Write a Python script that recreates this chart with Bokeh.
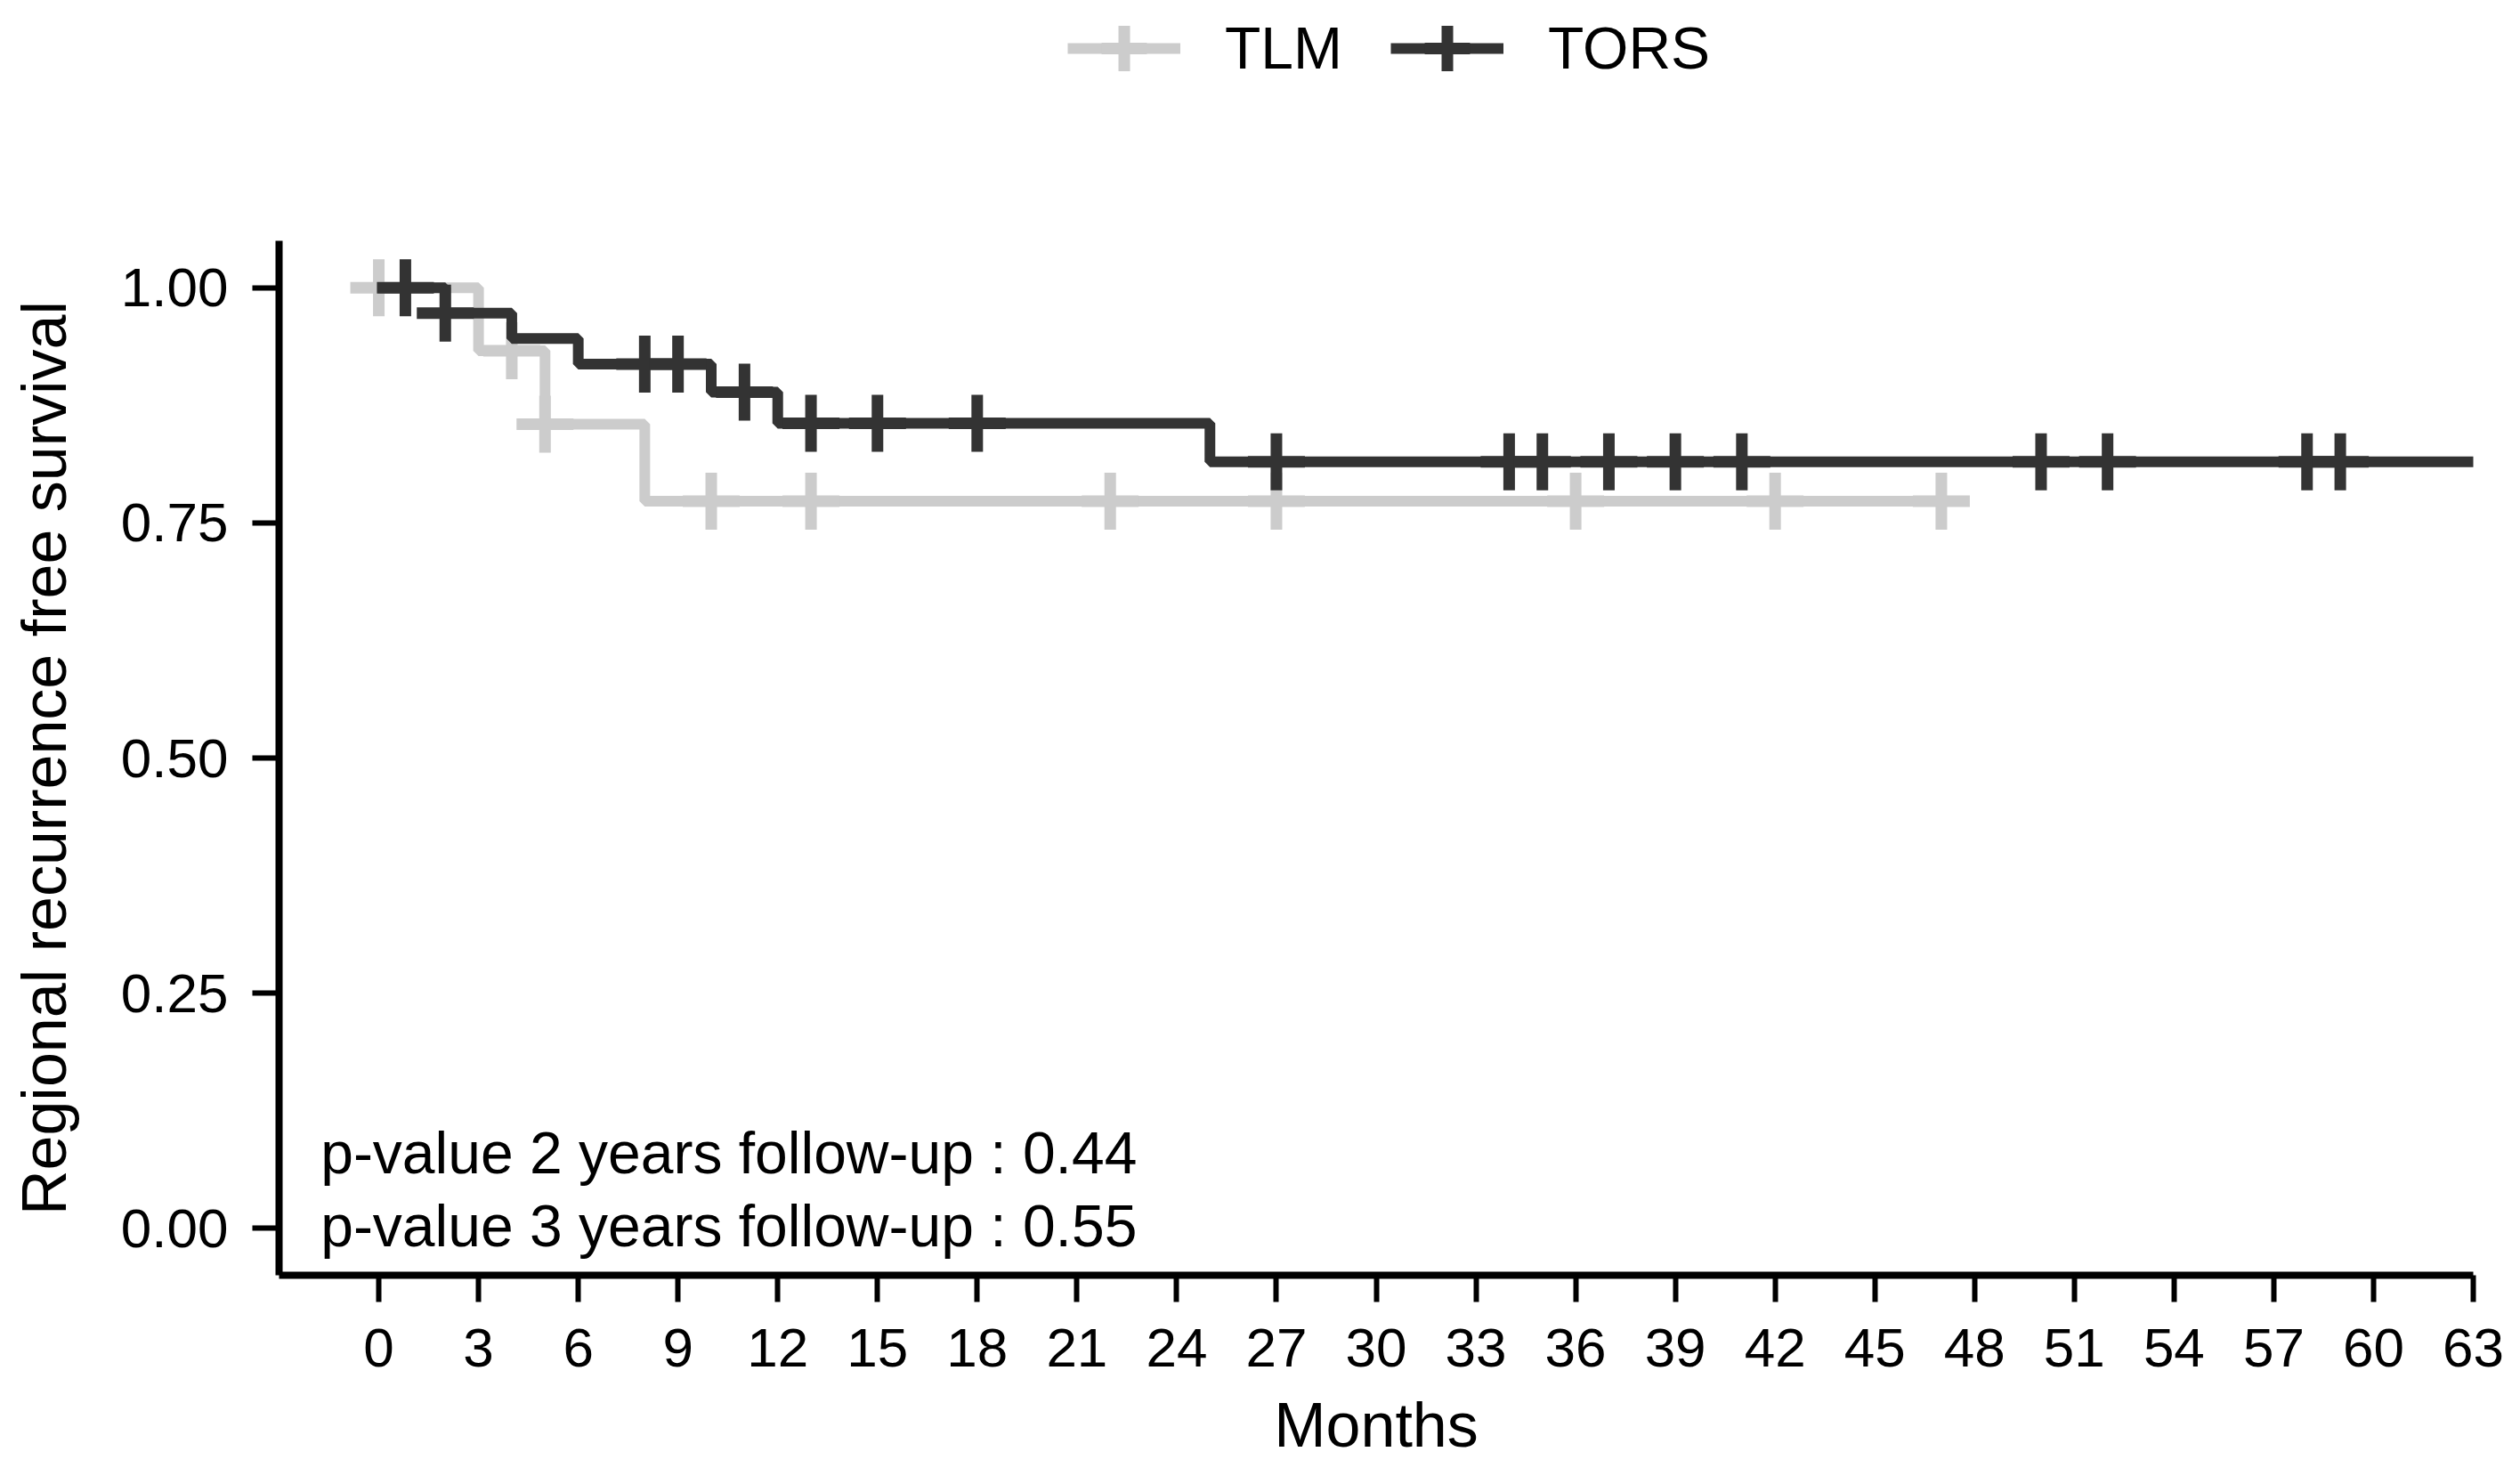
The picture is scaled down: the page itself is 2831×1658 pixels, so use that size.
import numpy as np
from bokeh.plotting import figure
from bokeh.layouts import column
from bokeh.models import FixedTicker, Legend, LegendItem, Label, Range1d, PrintfTickFormatter
from bokeh.embed import file_html
from bokeh.resources import INLINE

# ---------------- data ----------------
group_names = ["TLM", "TORS"]
group_colors = ["#cccccc", "#333333"]

tlm_times = [0, 3, 5, 8, 47]
tlm_surv = [1.0, 0.933, 0.855, 0.773, 0.773]
tlm_censor_times = [0, 4, 5, 10, 13, 22, 27, 36, 42, 47]

tors_times = [0, 2, 4, 6, 10, 12, 25, 64.4]
tors_surv = [1.0, 0.973, 0.946, 0.919, 0.889, 0.856, 0.815, 0.815]
tors_censor_times = [0.8, 2, 8, 9, 11, 13, 15, 18, 27, 34, 35, 37, 39, 41, 50, 52, 58, 59, 64.4]

x_ticks = list(range(0, 64, 3))
y_ticks = [0.0, 0.25, 0.5, 0.75, 1.0]
pvalue_texts = ["p-value 2 years follow-up : 0.44", "p-value 3 years follow-up : 0.55"]
pvalue_y = [0.080, 0.003]
pvalue_x = -1.75

FONT = "Liberation Sans"
LINE_W = 12
MARK_W = 13
MARK_SIZE = 64


def level_at(times, surv, t):
    idx = np.searchsorted(np.asarray(times, dtype=float), t, side="right") - 1
    return [surv[i] for i in idx]


# ---------------- legend strip (top); its y range shows none of the data ----------------
p_leg = figure(width=2815, height=270, output_backend="svg", toolbar_location=None,
               x_range=Range1d(-3, 63), y_range=Range1d(10, 11),
               x_axis_location=None, y_axis_location=None, min_border=0)
p_leg.outline_line_color = None
p_leg.grid.visible = False

# ---------------- main plot ----------------
p = figure(width=2815, height=1372, output_backend="svg", toolbar_location=None,
           x_range=Range1d(-3, 63), y_range=Range1d(-0.05, 1.05),
           min_border_left=313, min_border_right=37, min_border_top=0, min_border_bottom=205)

p.outline_line_color = None
p.grid.visible = False
p.background_fill_color = "white"

series = [
    (tlm_times, tlm_surv, tlm_censor_times),
    (tors_times, tors_surv, tors_censor_times),
]
items = []
for name, color, (t, s, c) in zip(group_names, group_colors, series):
    cs = level_at(t, s, c)
    p.step(t, s, mode="after", line_color=color, line_width=LINE_W)
    p.scatter(c, cs, marker="cross", size=MARK_SIZE, line_color=color, line_width=MARK_W)
    # legend keys: same series drawn in the strip, outside its visible y range
    kl = p_leg.step(t, s, mode="after", line_color=color, line_width=LINE_W)
    ks = p_leg.scatter(c, cs, marker="cross", size=MARK_SIZE, line_color=color, line_width=MARK_W)
    items.append(LegendItem(label=name, renderers=[kl, ks]))

legend = Legend(items=items, orientation="horizontal", location=(886, 136),
                border_line_color=None, background_fill_alpha=0,
                label_text_font=FONT, label_text_font_size="66px", label_text_color="black",
                glyph_width=127, glyph_height=160, label_standoff=50, spacing=54,
                padding=0, margin=0)
p_leg.add_layout(legend, "center")

for txt, yy in zip(pvalue_texts, pvalue_y):
    p.add_layout(Label(x=pvalue_x, y=yy, text=txt, text_baseline="middle", text_align="left",
                       text_font=FONT, text_font_size="66px", text_color="black"))

p.xaxis.ticker = FixedTicker(ticks=x_ticks)
p.yaxis.ticker = FixedTicker(ticks=y_ticks)
p.yaxis.formatter = PrintfTickFormatter(format="%.2f")

for ax in (p.xaxis, p.yaxis):
    ax.axis_line_width = 8
    ax.axis_line_color = "black"
    ax.major_tick_line_width = 6
    ax.major_tick_line_color = "black"
    ax.major_tick_out = 30
    ax.major_tick_in = 0
    ax.minor_tick_line_color = None
    ax.major_label_text_font = FONT
    ax.major_label_text_font_size = "62px"
    ax.major_label_text_color = "black"
    ax.axis_label_text_font = FONT
    ax.axis_label_text_font_size = "70px"
    ax.axis_label_text_font_style = "normal"
    ax.axis_label_text_color = "black"

p.xaxis.axis_label = "Months"
p.xaxis.major_label_standoff = 30
p.xaxis.axis_label_standoff = 24
p.yaxis.axis_label = "Regional recurrence free survival"
p.yaxis.major_label_standoff = 27
p.yaxis.axis_label_standoff = 44

layout = column(p_leg, p, spacing=0)
open("out.html", "w").write(file_html(layout, INLINE))
